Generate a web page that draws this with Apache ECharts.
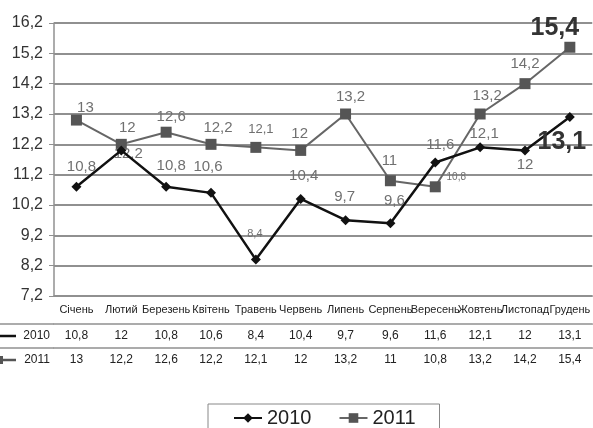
<!DOCTYPE html>
<html>
<head>
<meta charset="utf-8">
<script src="https://cdn.jsdelivr.net/npm/echarts@6/dist/echarts.min.js"></script>
<style>
  html, body { margin: 0; padding: 0; background: #fff; }
  #chart { width: 593px; height: 428px; }
</style>
</head>
<body>
<div id="chart"></div>
<script>
// data
const months = ["Січень", "Лютий", "Березень", "Квітень", "Травень", "Червень",
  "Липень", "Серпень", "Вересень", "Жовтень", "Листопад", "Грудень"];
const values2010 = [10.8, 12, 10.8, 10.6, 8.4, 10.4, 9.7, 9.6, 11.6, 12.1, 12, 13.1];
const values2011 = [13, 12.2, 12.6, 12.2, 12.1, 12, 13.2, 11, 10.8, 13.2, 14.2, 15.4];

// label placement (offset from the point, font size)
const offs2010 = [[5, -20], [6, -23], [5, -21], [-3, -26], [-1, -26], [3, -23],
  [-1, -23], [4, -22], [5, -18], [4, -14], [0, 14], [-8, 25]];
const sizes2010 = [15, 15, 15, 15, 11, 15, 15, 15, 15, 15, 15, 25];
const offs2011 = [[9, -12], [7, 10], [5, -15], [7, -16], [5, -18], [-1, -17],
  [5, -17], [-1, -20], [21, -10], [7, -18], [0, -20], [-15, -19]];
const sizes2011 = [15, 15, 15, 15, 13, 15, 15, 15, 10, 15, 15, 25];

const fmt = (v) => String(v).replace(".", ",");
const font = "'Liberation Sans', Arial, sans-serif";
const gridColor = "#909090";

function points(values, offs, sizes) {
  return values.map((v, i) => ({
    value: v,
    label: {
      offset: offs[i],
      fontSize: sizes[i],
      fontWeight: sizes[i] > 20 ? "bold" : "normal",
      color: sizes[i] > 20 ? "#333" : "#707070",
    },
  }));
}

const chart = echarts.init(document.getElementById("chart"));

const option = {
  backgroundColor: "#fff",
  animation: false,
  textStyle: { fontFamily: font },
  grid: { left: 54, top: 23, width: 544, height: 273 },
  legend: {
    data: ["2010", "2011"],
    left: 208,
    top: 404,
    width: 218,
    padding: [4, 24, 20, 25],
    borderColor: "#888",
    borderWidth: 1,
    itemGap: 27,
    itemWidth: 28,
    itemHeight: 12,
    textStyle: { fontSize: 20, color: "#222", fontFamily: font },
  },
  xAxis: [
    {
      type: "category",
      data: months,
      position: "bottom",
      axisLine: { lineStyle: { color: gridColor, width: 1.5 } },
      axisTick: { length: 77, lineStyle: { color: gridColor, width: 1.5 } },
      axisLabel: { interval: 0, margin: 8, fontSize: 11, color: "#222", fontFamily: font },
    },
    {
      type: "category",
      data: values2010.map(fmt),
      position: "bottom",
      offset: 28,
      axisLine: { lineStyle: { color: gridColor, width: 1.5 } },
      axisTick: { show: false },
      axisLabel: { interval: 0, margin: 6, fontSize: 12, color: "#222", fontFamily: font },
    },
    {
      type: "category",
      data: values2011.map(fmt),
      position: "bottom",
      offset: 52,
      axisLine: { lineStyle: { color: gridColor, width: 1.5 } },
      axisTick: { show: false },
      axisLabel: { interval: 0, margin: 6, fontSize: 12, color: "#222", fontFamily: font },
    },
  ],
  yAxis: {
    type: "value",
    min: 7.2,
    max: 16.2,
    interval: 1,
    axisLine: { show: true, lineStyle: { color: gridColor, width: 1.5 } },
    axisTick: { show: true, length: 5, lineStyle: { color: gridColor } },
    axisLabel: {
      margin: 11,
      fontSize: 16,
      color: "#333",
      fontFamily: font,
      formatter: (v) => v.toFixed(1).replace(".", ","),
    },
    splitLine: { lineStyle: { color: gridColor, width: 1.8 } },
  },
  series: [
    {
      name: "2010",
      type: "line",
      z: 3,
      data: points(values2010, offs2010, sizes2010),
      symbol: "diamond",
      symbolSize: 10,
      lineStyle: { color: "#111", width: 2.5 },
      itemStyle: { color: "#111" },
      label: {
        show: true,
        position: "inside",
        formatter: (p) => fmt(p.value),
        fontFamily: font,
      },
    },
    {
      name: "2011",
      type: "line",
      z: 2,
      data: points(values2011, offs2011, sizes2011),
      symbol: "rect",
      symbolSize: 11,
      lineStyle: { color: "#666", width: 2 },
      itemStyle: { color: "#555" },
      label: {
        show: true,
        position: "inside",
        formatter: (p) => fmt(p.value),
        fontFamily: font,
      },
    },
  ],
  graphic: [
    // table rows continue to the left edge, row headers with legend keys
    { type: "line", shape: { x1: 0, y1: 324, x2: 54, y2: 324 }, style: { stroke: gridColor, lineWidth: 1.5 } },
    { type: "line", shape: { x1: 0, y1: 348, x2: 54, y2: 348 }, style: { stroke: gridColor, lineWidth: 1.5 } },
    { type: "line", shape: { x1: 0, y1: 336, x2: 16, y2: 336 }, style: { stroke: "#111", lineWidth: 2.5 } },
    { type: "line", shape: { x1: 0, y1: 360, x2: 16, y2: 360 }, style: { stroke: "#555", lineWidth: 2.5 } },
    { type: "rect", shape: { x: 0, y: 356, width: 3, height: 8 }, style: { fill: "#555" } },
    { type: "text", x: 50, y: 336, style: { text: "2010", align: "right", verticalAlign: "middle", fill: "#222", font: "12px " + font } },
    { type: "text", x: 50, y: 360, style: { text: "2011", align: "right", verticalAlign: "middle", fill: "#222", font: "12px " + font } },
  ],
};

chart.setOption(option);
window.addEventListener("resize", () => chart.resize());
</script>
</body>
</html>
